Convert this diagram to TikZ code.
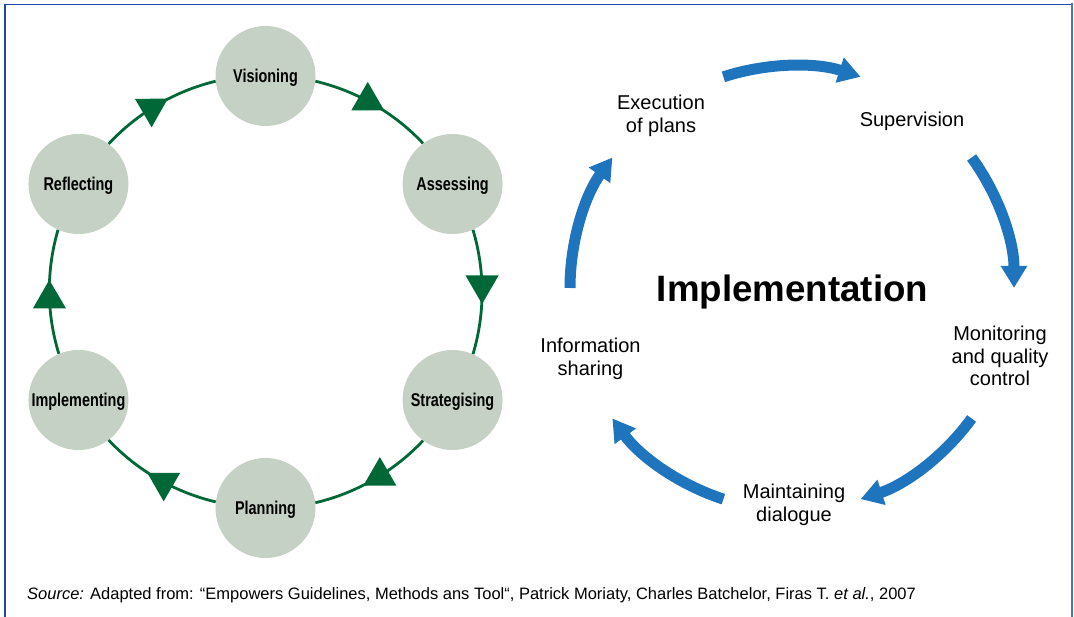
\documentclass[tikz,border=0pt]{standalone}
\usepackage{fontspec}
\setmainfont{Liberation Sans}
\newfontfamily\condfont[FakeStretch=0.78]{Liberation Sans}
\usepackage{tikz}
\usetikzlibrary{arrows.meta,positioning,calc,decorations.markings}
\definecolor{cyclegreen}{RGB}{0,104,55}
\definecolor{stagefill}{RGB}{197,209,196}
\definecolor{flowblue}{RGB}{31,116,190}
\definecolor{framedark}{RGB}{32,72,168}
\definecolor{framelight}{RGB}{78,118,186}

\begin{document}
\begin{tikzpicture}[x=1pt, y=1pt,
		stage/.style={circle, fill=stagefill, minimum size=100pt, inner sep=0pt, text depth=0pt, font=\condfont\bfseries\fontsize{18.5}{21}\selectfont},
		loopline/.style={cyclegreen, line width=2.8pt, postaction={decorate},
			decoration={markings, mark=at position 0.5 with {\fill[cyclegreen] (12pt,0pt) -- (-16.5pt,16.5pt) -- (-16.5pt,-16.5pt) -- cycle;}}},
		bluearrow/.style={flowblue, line width=11pt, -{Triangle[length=22pt, width=25pt]}},
		phase/.style={align=center, inner sep=0pt, font=\fontsize{20}{22.5}\selectfont}]
		\useasboundingbox (0,0) rectangle (1074,617);
		\draw[framedark, line width=1.6pt] (5,0) -- (5,612.5) -- (1072,612.5);
		\draw[framelight, line width=2.4pt] (1072,613.5) -- (1072,0);

		\coordinate (cyc) at (265.5,325);
		\node[stage] (vis) at ($(cyc)+(90:216)$) {Visioning};
		\node[stage] (ass) at ($(cyc)+(30:216)$) {Assessing};
		\node[stage] (str) at ($(cyc)+(-30:216)$) {Strategising};
		\node[stage] (pla) at ($(cyc)+(-90:216)$) {Planning};
		\node[stage] (imp) at ($(cyc)+(210:216)$) {Implementing};
		\node[stage] (ref) at ($(cyc)+(150:216)$) {Reflecting};
		\draw[loopline] (vis.-6.65) to[bend left=16.7, looseness=0.87] (ass.126.65);
		\draw[loopline] (ass.-66.65) to[bend left=16.7, looseness=0.87] (str.66.65);
		\draw[loopline] (str.-126.65) to[bend left=16.7, looseness=0.87] (pla.6.65);
		\draw[loopline] (pla.173.35) to[bend left=16.7, looseness=0.87] (imp.-53.35);
		\draw[loopline] (imp.113.35) to[bend left=16.7, looseness=0.87] (ref.246.65);
		\draw[loopline] (ref.53.35) to[bend left=16.7, looseness=0.87] (vis.186.65);

		\coordinate (hub) at (792,329);
		\node[font=\bfseries\fontsize{36.7}{40}\selectfont, anchor=base, inner sep=0pt] (title) at (792.5,315) {Implementation};
		\node[phase] (exec) at (661,501) {Execution\\of plans};
		\node[phase] (sup) at (912,496) {Supervision};
		\node[phase] (mon) at (1000,261) {Monitoring\\and quality\\control};
		\node[phase] (dia) at (794,112) {Maintaining\\dialogue};
		\node[phase] (info) at (590.5,258) {Information\\sharing};
		\draw[bluearrow] ($(hub)+(108:222)$) arc[start angle=108, end angle=72, radius=222pt];
		\draw[bluearrow] ($(hub)+(36:222)$) arc[start angle=36, end angle=0, radius=222pt];
		\draw[bluearrow] ($(hub)+(-36:222)$) arc[start angle=-36, end angle=-72, radius=222pt];
		\draw[bluearrow] ($(hub)+(-108:222)$) arc[start angle=-108, end angle=-144, radius=222pt];
		\draw[bluearrow] ($(hub)+(180:222)$) arc[start angle=180, end angle=144, radius=222pt];

		\node[anchor=base west, inner sep=0pt, font=\fontsize{16.5}{19}\selectfont] (source) at (27,17)
			{\textit{Source:} Adapted from: “Empowers Guidelines, Methods ans Tool“, Patrick Moriaty, Charles Batchelor, Firas T. \textit{et al.}, 2007};
	\end{tikzpicture}
\end{document}
